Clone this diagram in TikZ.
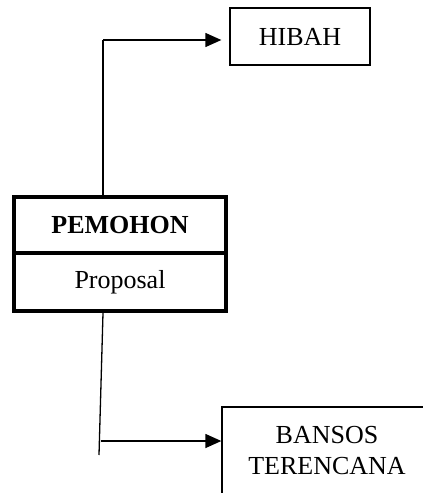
\documentclass[tikz,border=0pt]{standalone}
\usepackage{fontspec}
\setmainfont{Liberation Serif}
\usetikzlibrary{arrows.meta}
\begin{document}
\begin{tikzpicture}[x=1pt,y=-1pt,
  thinbox/.style={draw, line width=1.3pt, inner sep=0pt, font=\fontsize{26}{31}\selectfont, align=center},
  thickbox/.style={draw, line width=4pt, inner sep=0pt, minimum width=212pt, font=\fontsize{26}{31}\selectfont},
  conn/.style={line width=1.3pt},
  arr/.style={line width=1.3pt, -{Triangle[length=16pt,width=14pt]}}]
\useasboundingbox (0,0) rectangle (423,493);
\clip (0,0) rectangle (423,493);
\node[thinbox, minimum width=140pt, minimum height=57pt] (hibah) at (300,36.5) {HIBAH};
\node[thickbox, minimum height=56pt] (pem) at (120,225) {\bfseries PEMOHON};
\node[thickbox, minimum height=58pt] (prop) at (120,282) {Proposal};
\node[thinbox, minimum width=210pt, minimum height=101pt] (bans) at (327,457.5) {BANSOS\\TERENCANA\\[-16pt]\mbox{}};
\coordinate (ta) at (103,40);
\coordinate (bs) at (103,313);
\coordinate (bend) at (99,455);
\coordinate (ba) at (100.5,441);
\draw[conn] (pem.north -| ta) -- (ta);
\draw[arr, shorten >=8pt] (ta) -- (hibah.west |- ta);
\draw[conn] (bs) -- (bend);
\draw[arr] (ba) -- (bans.west |- ba);
\end{tikzpicture}
\end{document}
